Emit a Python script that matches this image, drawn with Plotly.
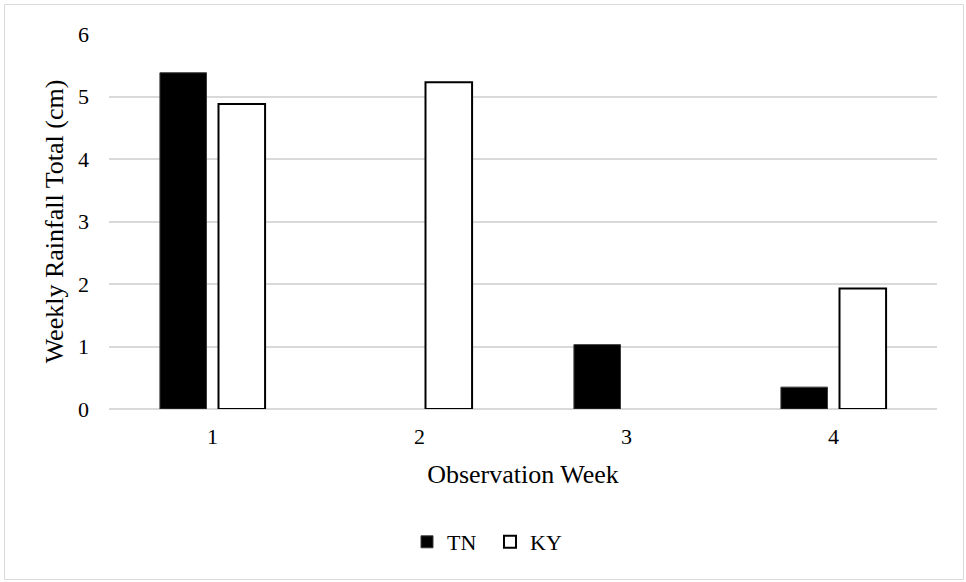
import plotly.graph_objects as go

# Weekly rainfall totals (cm) by observation week
weeks = ["1", "2", "3", "4"]
tn_rain = [5.38, 0.0, 1.03, 0.35]
ky_rain = [4.88, 5.23, 0.0, 1.93]
y_ticks = [0, 1, 2, 3, 4, 5, 6]

W, H = 966, 582
L, R, T, B = 109, 29, 34, 173
pw, ph = W - L - R, H - T - B

FONT = "Liberation Serif, Times New Roman, serif"


def px_x(x):
    return (x - L) / pw


def px_y(y):
    return (H - B - y) / ph


# no outline on empty weeks
tn_edge = [1 if v > 0 else 0 for v in tn_rain]
ky_edge = [2 if v > 0 else 0 for v in ky_rain]

fig = go.Figure()
fig.add_trace(go.Bar(
    name="TN", x=weeks, y=tn_rain,
    marker=dict(color="black", line=dict(color="#3a3a3a", width=tn_edge)),
))
fig.add_trace(go.Bar(
    name="KY", x=weeks, y=ky_rain,
    marker=dict(color="white", line=dict(color="black", width=ky_edge)),
))

# outer chart border
fig.add_shape(
    type="rect", xref="paper", yref="paper",
    x0=px_x(4.5), x1=px_x(963.5), y0=px_y(579.5), y1=px_y(4.5),
    line=dict(color="#d9d9d9", width=1), fillcolor="rgba(0,0,0,0)", layer="below",
)

fig.update_layout(
    width=W, height=H,
    margin=dict(l=L, r=R, t=T, b=B, autoexpand=False),
    paper_bgcolor="white", plot_bgcolor="white",
    barmode="group", bargap=0.434, bargroupgap=0.205,
    font=dict(family=FONT, size=22, color="black"),
    showlegend=True,
    legend=dict(
        orientation="h", x=px_x(490), xanchor="center",
        y=px_y(542), yanchor="middle",
        font=dict(size=22), itemwidth=30, traceorder="normal",
        entrywidth=38, entrywidthmode="pixels",
    ),
    xaxis=dict(
        type="category", showgrid=False, ticks="", showline=False,
        tickfont=dict(size=22), ticklabelstandoff=12,
        title=dict(text="Observation Week", font=dict(size=26), standoff=16),
    ),
    yaxis=dict(
        range=[0, 6], tickvals=y_ticks, showgrid=True, gridcolor="#d9d9d9", gridwidth=1.5,
        zeroline=True, zerolinecolor="#d9d9d9", zerolinewidth=1.5,
        ticks="", showline=False, tickfont=dict(size=22), ticklabelstandoff=19,
        title=dict(text="Weekly Rainfall Total (cm)", font=dict(size=26), standoff=6),
    ),
)

fig.write_html("out.html")
